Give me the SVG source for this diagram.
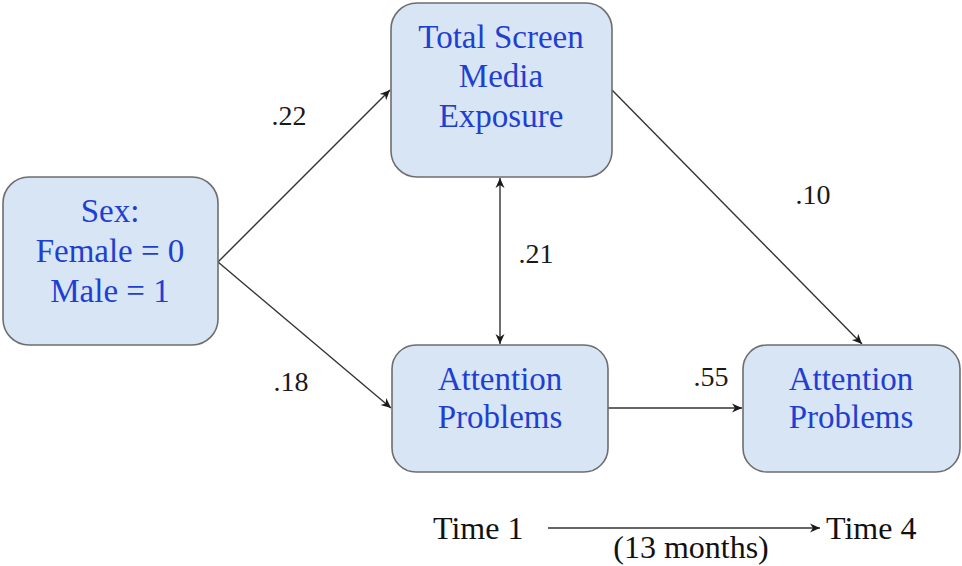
<svg xmlns="http://www.w3.org/2000/svg" width="962" height="566" viewBox="0 0 962 566">
  <defs>
    <marker id="arrow" viewBox="0 0 12 12" refX="11" refY="6" markerWidth="12" markerHeight="12" markerUnits="userSpaceOnUse" orient="auto-start-reverse">
      <path d="M1,1.5 L11,6 L1,10.5 L4,6 Z" fill="#1a1a1a"/>
    </marker>
    <style>
      text { font-family: 'Liberation Serif', 'DejaVu Serif', serif; }
      .box { fill: #d7e5f5; stroke: #6e6e6e; stroke-width: 1.6; }
      .label { font-size: 33px; fill: #1f3fd2; text-anchor: middle; }
      .coef { font-size: 28px; fill: #1a1a1a; text-anchor: middle; }
      .time { font-size: 32px; fill: #111; }
      .edge { stroke: #333; stroke-width: 1.4; fill: none; }
    </style>
  </defs>
  <rect width="962" height="566" fill="#ffffff"/>

  <g id="connectors">
    <line class="edge" x1="218" y1="262" x2="390" y2="90" marker-end="url(#arrow)"/>
    <line class="edge" x1="218" y1="262" x2="391" y2="408" marker-end="url(#arrow)"/>
    <line class="edge" x1="500" y1="178" x2="500" y2="344" marker-start="url(#arrow)" marker-end="url(#arrow)"/>
    <line class="edge" x1="608" y1="408" x2="742" y2="408" marker-end="url(#arrow)"/>
    <line class="edge" x1="612" y1="90" x2="862" y2="344" marker-end="url(#arrow)"/>
    <line class="edge" x1="548" y1="528" x2="820" y2="528" marker-end="url(#arrow)"/>
  </g>

  <g id="coefficients">
    <text class="coef" x="289" y="125">.22</text>
    <text class="coef" x="291" y="391">.18</text>
    <text class="coef" x="536" y="263">.21</text>
    <text class="coef" x="813" y="204">.10</text>
    <text class="coef" x="711" y="386">.55</text>
  </g>

  <g id="node-sex">
    <rect class="box" x="3" y="177" width="215" height="168" rx="26"/>
    <text class="label" x="110" y="222">Sex:</text>
    <text class="label" x="110" y="262">Female = 0</text>
    <text class="label" x="110" y="302">Male = 1</text>
  </g>

  <g id="node-screen">
    <rect class="box" x="391" y="3" width="221" height="174" rx="26"/>
    <text class="label" x="501" y="48">Total Screen</text>
    <text class="label" x="501" y="87">Media</text>
    <text class="label" x="501" y="127">Exposure</text>
  </g>

  <g id="node-attention-t1">
    <rect class="box" x="392" y="345" width="216" height="127" rx="24"/>
    <text class="label" x="500" y="390">Attention</text>
    <text class="label" x="500" y="428">Problems</text>
  </g>

  <g id="node-attention-t4">
    <rect class="box" x="743" y="345" width="217" height="127" rx="24"/>
    <text class="label" x="851" y="390">Attention</text>
    <text class="label" x="851" y="428">Problems</text>
  </g>

  <g id="timeline">
    <text class="time" x="433" y="539">Time 1</text>
    <text class="time" x="826" y="539">Time 4</text>
    <text class="time" x="691" y="558" font-size="31" text-anchor="middle">(13 months)</text>
  </g>
</svg>
